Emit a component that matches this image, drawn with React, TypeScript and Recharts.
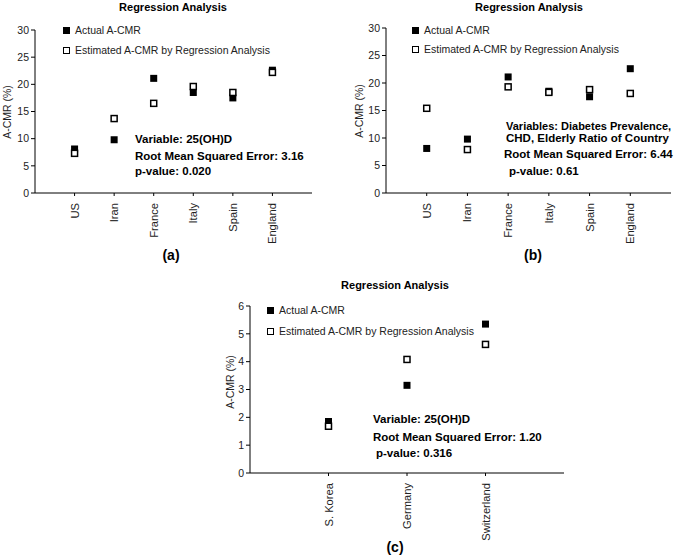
import React from "react";
import { ScatterChart, Scatter, XAxis, YAxis } from "recharts";

const countriesAB = ["US", "Iran", "France", "Italy", "Spain", "England"];
const actualAB = [8.1, 9.8, 21.1, 18.5, 17.5, 22.6];
const estimatedA = [7.3, 13.7, 16.5, 19.6, 18.5, 22.2];
const estimatedB = [15.4, 7.9, 19.3, 18.3, 18.8, 18.1];

const countriesC = ["S. Korea", "Germany", "Switzerland"];
const actualC = [1.85, 3.15, 5.35];
const estimatedC = [1.68, 4.08, 4.62];

const ticksAB = [0, 5, 10, 15, 20, 25, 30];
const ticksC = [0, 1, 2, 3, 4, 5, 6];

const FONT = '"Liberation Sans", Arial, sans-serif';

const toPoints = (vals: number[]) => vals.map((v, i) => ({ x: i + 1, y: v }));

const FilledSquare = (props: any) => {
  const { cx, cy } = props;
  return <rect x={cx - 3.5} y={cy - 3.5} width={7} height={7} fill="#000" />;
};

const OpenSquare = (props: any) => {
  const { cx, cy } = props;
  return (
    <rect x={cx - 3} y={cy - 3} width={6} height={6} fill="#fff" stroke="#000" strokeWidth={1.5} />
  );
};

const RotTick = ({ x, y, payload, names }: any) => {
  const name = names[payload.value - 1];
  if (!name) return null;
  const ty = y + 5;
  return (
    <text
      x={x}
      y={ty}
      dy={4}
      transform={`rotate(-90 ${x} ${ty})`}
      textAnchor="end"
      fontSize={11.2}
      fontFamily={FONT}
      fill="#222"
    >
      {name}
    </text>
  );
};

const abs = (left: number, top: number, extra: React.CSSProperties = {}): React.CSSProperties => ({
  position: "absolute",
  left,
  top,
  fontFamily: FONT,
  lineHeight: 1,
  whiteSpace: "pre",
  color: "#000",
  ...extra,
});

function Panel({ p }: any) {
  const n = p.names.length;
  return (
    <>
      <div style={abs(p.left, p.top)}>
        <ScatterChart width={p.width} height={p.height} margin={p.margin}>
          <XAxis
            type="number"
            dataKey="x"
            domain={[0, n + 1]}
            ticks={p.names.map((_: string, i: number) => i + 1)}
            tick={<RotTick names={p.names} />}
            tickSize={3}
            height={60}
            axisLine={{ stroke: "#000" }}
            tickLine={{ stroke: "#000" }}
            allowDataOverflow
          />
          <YAxis
            type="number"
            dataKey="y"
            domain={[0, p.yTicks[p.yTicks.length - 1]]}
            ticks={p.yTicks}
            width={35}
            tickSize={4}
            tick={{ fontSize: 10.5, fontFamily: FONT, fill: "#222" }}
            axisLine={{ stroke: "#000" }}
            tickLine={{ stroke: "#000" }}
          />
          <Scatter data={toPoints(p.actual)} shape={<FilledSquare />} isAnimationActive={false} />
          <Scatter data={toPoints(p.estimated)} shape={<OpenSquare />} isAnimationActive={false} />
        </ScatterChart>
      </div>
      <div style={abs(p.title[0], p.title[1], { transform: "translate(-50%,-50%)", fontWeight: "bold", fontSize: 11 })}>
        Regression Analysis
      </div>
      <div
        style={abs(p.ylabel[0], p.ylabel[1], {
          transform: "translate(-50%,-50%) rotate(-90deg)",
          fontSize: 10.5,
          color: "#222",
        })}
      >
        A-CMR (%)
      </div>
      <div style={abs(p.legend[0] - 3.5, p.legend[1] - 3.5, { width: 7, height: 7, background: "#000" })} />
      <div
        style={abs(p.legend[0] - 3.5, p.legend[2] - 3.5, {
          width: 7,
          height: 7,
          boxSizing: "border-box",
          background: "#fff",
          border: "1.5px solid #000",
        })}
      />
      <div style={abs(p.legend[0] + 9, p.legend[1], { transform: "translateY(-50%)", fontSize: 10.5, color: "#222" })}>
        Actual A-CMR
      </div>
      <div style={abs(p.legend[0] + 9, p.legend[2], { transform: "translateY(-50%)", fontSize: 10.5, color: "#222" })}>
        Estimated A-CMR by Regression Analysis
      </div>
      {p.notes.map((t: [string, number, number, number?], i: number) => (
        <div
          key={i}
          style={abs(t[1], t[2], { transform: "translateY(-50%)", fontSize: t[3] ?? 11.5, fontWeight: "bold" })}
        >
          {t[0]}
        </div>
      ))}
      <div style={abs(p.tag[0], p.tag[1], { transform: "translate(-50%,-50%)", fontSize: 14, fontWeight: "bold" })}>
        {p.tag[2]}
      </div>
    </>
  );
}

const panelA = {
  left: 0, top: 0, width: 330, height: 270,
  margin: { top: 30, right: 18, left: 0, bottom: 17 },
  names: countriesAB, actual: actualAB, estimated: estimatedA, yTicks: ticksAB,
  title: [173, 7], ylabel: [7, 112], legend: [66, 30, 50], tag: [171, 255, "(a)"],
  notes: [
    ["Variable: 25(OH)D", 135, 140],
    ["Root Mean Squared Error: 3.16", 135, 157],
    ["p-value: 0.020", 135, 172],
  ],
};

const panelB = {
  left: 351, top: 0, width: 325, height: 270,
  margin: { top: 28, right: 5, left: 0, bottom: 17 },
  names: countriesAB, actual: actualAB, estimated: estimatedB, yTicks: ticksAB,
  title: [529, 7], ylabel: [359, 111], legend: [415, 30, 49], tag: [533, 255, "(b)"],
  notes: [
    ["Variables: Diabetes Prevalence,", 506, 126, 11],
    ["CHD, Elderly Ratio of Country", 506, 139],
    ["Root Mean Squared Error: 6.44", 504, 155],
    ["p-value: 0.61", 509, 172],
  ],
};

const panelC = {
  left: 215, top: 280, width: 360, height: 277,
  margin: { top: 26, right: 11, left: 0, bottom: 24 },
  names: countriesC, actual: actualC, estimated: estimatedC, yTicks: ticksC,
  title: [395, 285], ylabel: [230, 382], legend: [270, 310, 331], tag: [395, 547, "(c)"],
  notes: [
    ["Variable: 25(OH)D", 373, 420],
    ["Root Mean Squared Error: 1.20", 373, 438],
    ["p-value: 0.316", 376, 454],
  ],
};

export default function App() {
  return (
    <div style={{ position: "absolute", left: 0, top: 0, width: 676, height: 557, background: "#fff", overflow: "hidden" }}>
      <Panel p={panelA} />
      <Panel p={panelB} />
      <Panel p={panelC} />
    </div>
  );
}
